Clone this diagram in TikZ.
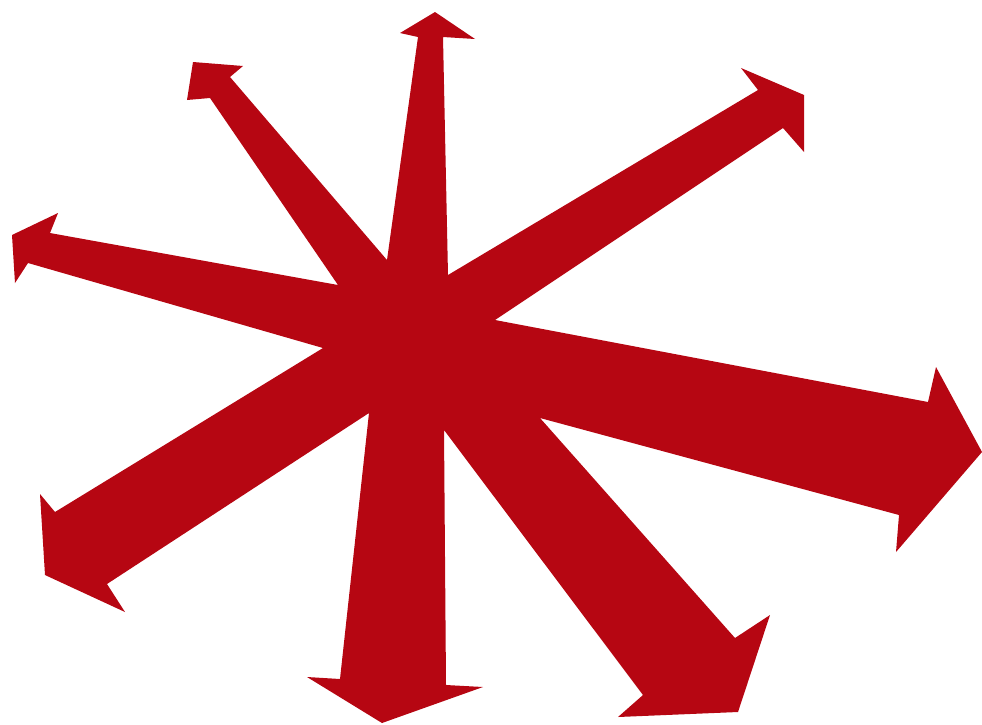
\documentclass[tikz,border=0pt]{standalone}
\definecolor{burstred}{RGB}{182,6,18}
\tikzset{burst/.style={fill=burstred, draw=none}}
\begin{document}
\begin{tikzpicture}[x=0.01cm, y=-0.01cm]
\useasboundingbox (0,0) rectangle (982,724);
\path[burst]
  (435,12) -- (475,39) -- (443,37) -- (448,275)
  -- (758,90) -- (741,68) -- (804,95) -- (804,152) -- (783,128)
  -- (495,320)
  -- (928,402) -- (936,367) -- (982,452) -- (896,552) -- (899,515)
  -- (540,418)
  -- (735,638) -- (770,615) -- (738,712) -- (618,717) -- (643,695)
  -- (444,430)
  -- (446,685) -- (483,687) -- (382,723) -- (307,677) -- (340,679)
  -- (369,413)
  -- (107,584) -- (125,612) -- (45,575) -- (40,494) -- (55,512)
  -- (323,348)
  -- (28,263) -- (15,283) -- (12,235) -- (58,213) -- (50,233)
  -- (338,285)
  -- (210,98) -- (187,100) -- (193,62) -- (243,66) -- (230,77)
  -- (387,260)
  -- (418,37) -- (400,33) -- cycle;
\end{tikzpicture}
\end{document}
